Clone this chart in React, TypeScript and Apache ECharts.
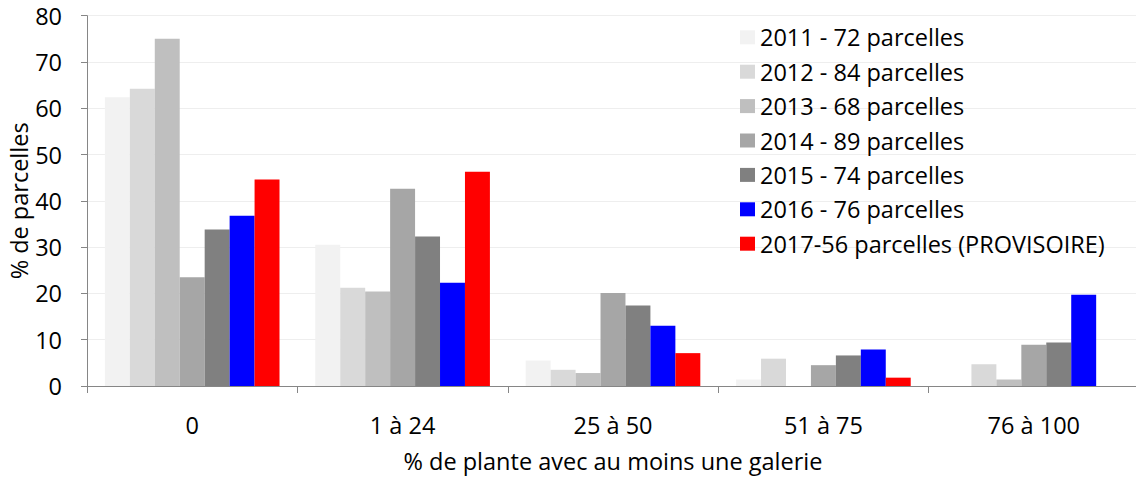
import React, { useEffect, useRef } from "react";
import * as echarts from "echarts";

const categories = ["0", "1 à 24", "25 à 50", "51 à 75", "76 à 100"];
const seriesNames = [
  "2011 - 72 parcelles",
  "2012 - 84 parcelles",
  "2013 - 68 parcelles",
  "2014 - 89 parcelles",
  "2015 - 74 parcelles",
  "2016 - 76 parcelles",
  "2017-56 parcelles (PROVISOIRE)",
];
const v2011 = [62.4, 30.5, 5.5, 1.4, 0];
const v2012 = [64.2, 21.2, 3.5, 5.9, 4.7];
const v2013 = [75.0, 20.4, 2.8, 0, 1.4];
const v2014 = [23.5, 42.6, 20.1, 4.5, 8.9];
const v2015 = [33.8, 32.3, 17.4, 6.6, 9.4];
const v2016 = [36.8, 22.3, 13.0, 7.9, 19.7];
const v2017 = [44.6, 46.3, 7.1, 1.8, 0];
const seriesValues = [v2011, v2012, v2013, v2014, v2015, v2016, v2017];
const colors = ["#F2F2F2", "#D9D9D9", "#BFBFBF", "#A6A6A6", "#808080", "#0000FF", "#FF0000"];
const yTicks = [0, 10, 20, 30, 40, 50, 60, 70, 80];

const FONT = "Open Sans";
const FS = 23.5;

export default function App() {
  const ref = useRef<HTMLDivElement>(null);
  useEffect(() => {
    if (!ref.current) return;
    const chart = echarts.init(ref.current, null, { renderer: "svg" });
    chart.setOption({
      animation: false,
      textStyle: { fontFamily: FONT },
      legend: {
        orient: "vertical",
        left: 735,
        top: 20.3,
        itemWidth: 15,
        itemHeight: 14,
        itemGap: 10.4,
        icon: "rect",
        textStyle: { fontFamily: FONT, fontSize: FS, color: "#000", lineHeight: 24 },
        data: seriesNames,
      },
      grid: {
        left: 87,
        top: 15.7,
        width: 1052,
        height: 370.3,
        containLabel: false,
        outerBoundsMode: "none",
      },
      xAxis: {
        type: "category",
        data: categories,
        name: "% de plante avec au moins une galerie",
        nameLocation: "middle",
        nameGap: 63,
        nameMoveOverlap: false,
        nameTextStyle: { fontFamily: FONT, fontSize: FS, color: "#000" },
        axisLine: { lineStyle: { color: "#868686", width: 1 } },
        axisTick: { show: true, length: 7, lineStyle: { color: "#868686" } },
        axisLabel: { fontFamily: FONT, fontSize: FS, color: "#000", margin: 27 },
      },
      yAxis: {
        type: "value",
        min: yTicks[0],
        max: yTicks[yTicks.length - 1],
        interval: 10,
        name: "% de parcelles",
        nameLocation: "middle",
        nameGap: 56,
        nameMoveOverlap: false,
        nameTextStyle: { fontFamily: FONT, fontSize: FS, color: "#000" },
        axisLine: { show: true, lineStyle: { color: "#868686", width: 1 } },
        axisTick: { show: true, length: 6, lineStyle: { color: "#868686" } },
        axisLabel: { fontFamily: FONT, fontSize: FS, color: "#000", margin: 25 },
        splitLine: { lineStyle: { color: "#EEEEEE", width: 1 } },
      },
      series: seriesNames.map((name, i) => ({
        name,
        type: "bar",
        data: seriesValues[i],
        barGap: "0%",
        barCategoryGap: "17%",
        itemStyle: { color: colors[i] },
      })),
    });
    return () => chart.dispose();
  }, []);
  return (
    <div
      ref={ref}
      style={{ position: "absolute", left: 0, top: 0, width: 1136, height: 477 }}
    />
  );
}
